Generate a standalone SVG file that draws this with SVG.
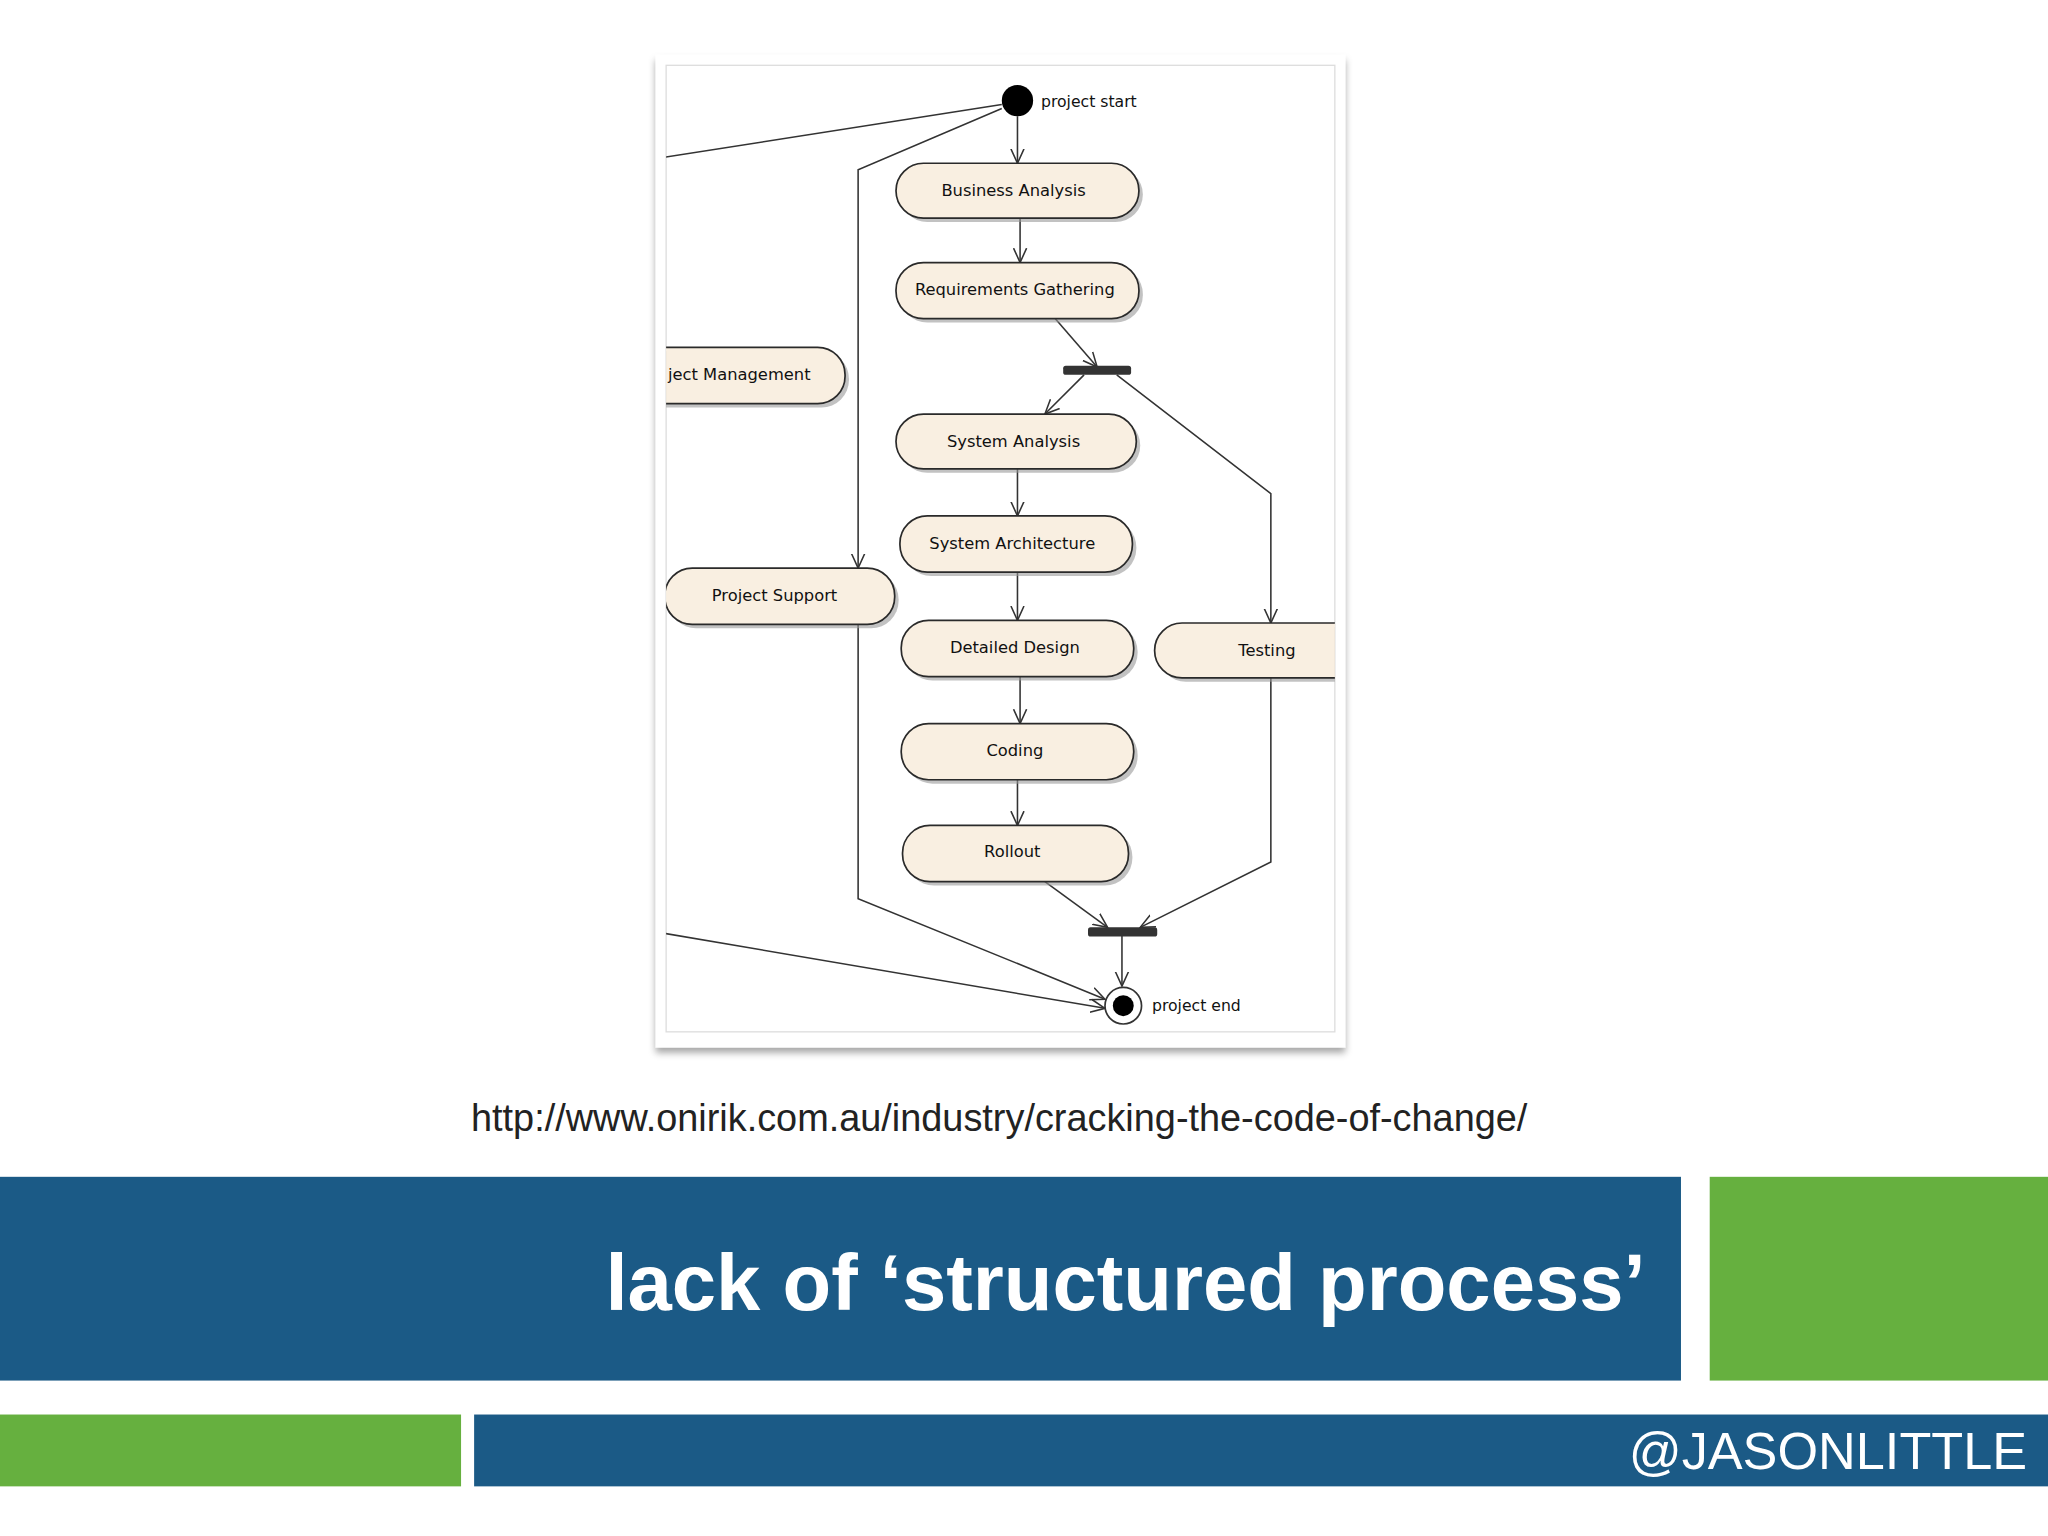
<svg xmlns="http://www.w3.org/2000/svg" width="2048" height="1536" viewBox="0 0 2048 1536">
<style>
.n{fill:#f9efe1;stroke:#2a2a2a;stroke-width:1.3}
.sh{fill:#9a9a9a;opacity:.6}
.t{font-family:"DejaVu Sans",sans-serif;font-size:12.5px;fill:#111;text-anchor:middle}
.e{fill:none;stroke:#333;stroke-width:1.2}
</style>
<defs>
<marker id="a" viewBox="0 0 12 12" refX="11" refY="6" markerWidth="12" markerHeight="12" markerUnits="userSpaceOnUse" orient="auto"><path d="M0,1 L11,6 L0,11" fill="none" stroke="#333" stroke-width="1.2"/></marker>
<clipPath id="c"><rect x="510" y="50" width="512" height="740"/></clipPath>
<filter id="f" x="-5%" y="-5%" width="110%" height="110%"><feDropShadow dx="0" dy="4" stdDeviation="3" flood-color="#000" flood-opacity=".35"/></filter>
</defs>
<rect width="2048" height="1536" fill="#fff"/>
<g transform="scale(1.30612)">
<rect x="502" y="42" width="528" height="760" fill="#fff" filter="url(#f)"/>
<rect x="510" y="50" width="512" height="740" fill="#fff" stroke="#ddd"/>
<g clip-path="url(#c)">
<g id="edges">
<path class="e" marker-end="url(#a)" d="M779,89 L779,125"/>
<path class="e" marker-end="url(#a)" d="M781,167 L781,201"/>
<path class="e" marker-end="url(#a)" d="M808,244 L840,281"/>
<path class="e" marker-end="url(#a)" d="M830,287 L800,317"/>
<path class="e" marker-end="url(#a)" d="M855,287 L973,378 L973,477"/>
<path class="e" d="M767,80 L505,121"/>
<path class="e" marker-end="url(#a)" d="M767,83 L657,130 L657,435"/>
<path class="e" marker-end="url(#a)" d="M779,359 L779,395"/>
<path class="e" marker-end="url(#a)" d="M779,438 L779,475"/>
<path class="e" marker-end="url(#a)" d="M781,518 L781,554"/>
<path class="e" marker-end="url(#a)" d="M779,597 L779,632"/>
<path class="e" marker-end="url(#a)" d="M800,675 L848,710"/>
<path class="e" marker-end="url(#a)" d="M973,519 L973,660 L873,710"/>
<path class="e" marker-end="url(#a)" d="M859,716 L859,755"/>
<path class="e" marker-end="url(#a)" d="M657,478 L657,688 L846,765"/>
<path class="e" marker-end="url(#a)" d="M505,714 L846,772"/>
</g>
<g id="start"><circle cx="779" cy="77" r="12" fill="#000"/><text x="797" y="82" style="font-family:'DejaVu Sans',sans-serif;font-size:12px;fill:#111">project start</text></g>
<g id="ba"><rect class="sh" x="689" y="128" width="186" height="42" rx="21"/><rect class="n" x="686" y="125" width="186" height="42" rx="21"/><text class="t" x="776" y="150">Business Analysis</text></g>
<g id="rg"><rect class="sh" x="689" y="204" width="186" height="43" rx="21"/><rect class="n" x="686" y="201" width="186" height="43" rx="21"/><text class="t" x="777" y="226">Requirements Gathering</text></g>
<g id="pm"><rect class="sh" x="473" y="269" width="177" height="43" rx="21"/><rect class="n" x="470" y="266" width="177" height="43" rx="21"/><text class="t" x="566" y="291">ject Management</text></g>
<g id="bar1"><rect x="814" y="280" width="52" height="7" rx="2" fill="#333"/></g>
<g id="sa"><rect class="sh" x="689" y="320" width="184" height="42" rx="21"/><rect class="n" x="686" y="317" width="184" height="42" rx="21"/><text class="t" x="776" y="342">System Analysis</text></g>
<g id="sarch"><rect class="sh" x="692" y="398" width="178" height="43" rx="21"/><rect class="n" x="689" y="395" width="178" height="43" rx="21"/><text class="t" x="775" y="420">System Architecture</text></g>
<g id="ps"><rect class="sh" x="512" y="438" width="176" height="43" rx="21"/><rect class="n" x="509" y="435" width="176" height="43" rx="21"/><text class="t" x="593" y="460">Project Support</text></g>
<g id="dd"><rect class="sh" x="693" y="478" width="178" height="43" rx="21"/><rect class="n" x="690" y="475" width="178" height="43" rx="21"/><text class="t" x="777" y="500">Detailed Design</text></g>
<g id="testing"><rect class="sh" x="887" y="480" width="180" height="42" rx="21"/><rect class="n" x="884" y="477" width="180" height="42" rx="21"/><text class="t" x="970" y="502">Testing</text></g>
<g id="coding"><rect class="sh" x="693" y="557" width="178" height="43" rx="21"/><rect class="n" x="690" y="554" width="178" height="43" rx="21"/><text class="t" x="777" y="579">Coding</text></g>
<g id="rollout"><rect class="sh" x="694" y="635" width="173" height="43" rx="21"/><rect class="n" x="691" y="632" width="173" height="43" rx="21"/><text class="t" x="775" y="656">Rollout</text></g>
<g id="bar2"><rect x="833" y="710" width="53" height="7" rx="2" fill="#333"/></g>
<g id="end"><circle cx="860" cy="770" r="14" fill="#fff" stroke="#333" stroke-width="1.3"/><circle cx="860" cy="770" r="8" fill="#000"/><text x="882" y="774" style="font-family:'DejaVu Sans',sans-serif;font-size:12px;fill:#111">project end</text></g>
</g>
<text x="765" y="866" text-anchor="middle" style="font-family:'Liberation Sans',sans-serif;font-size:29px;fill:#222">http://www.onirik.com.au/industry/cracking-the-code-of-change/</text>
<rect x="0" y="901" width="1287" height="156" fill="#1b5a86"/>
<rect x="1309" y="901" width="259" height="156" fill="#66b03f"/>
<text x="1260" y="1003" text-anchor="end" style="font-family:'Liberation Sans',sans-serif;font-weight:bold;font-size:61px;fill:#fff">lack of ‘structured process’</text>
<rect x="0" y="1083" width="353" height="55" fill="#66b03f"/>
<rect x="363" y="1083" width="1205" height="55" fill="#1b5a86"/>
<text x="1552" y="1125" text-anchor="end" style="font-family:'Liberation Sans',sans-serif;font-size:40px;fill:#fff">@JASONLITTLE</text>
</g>
</svg>
